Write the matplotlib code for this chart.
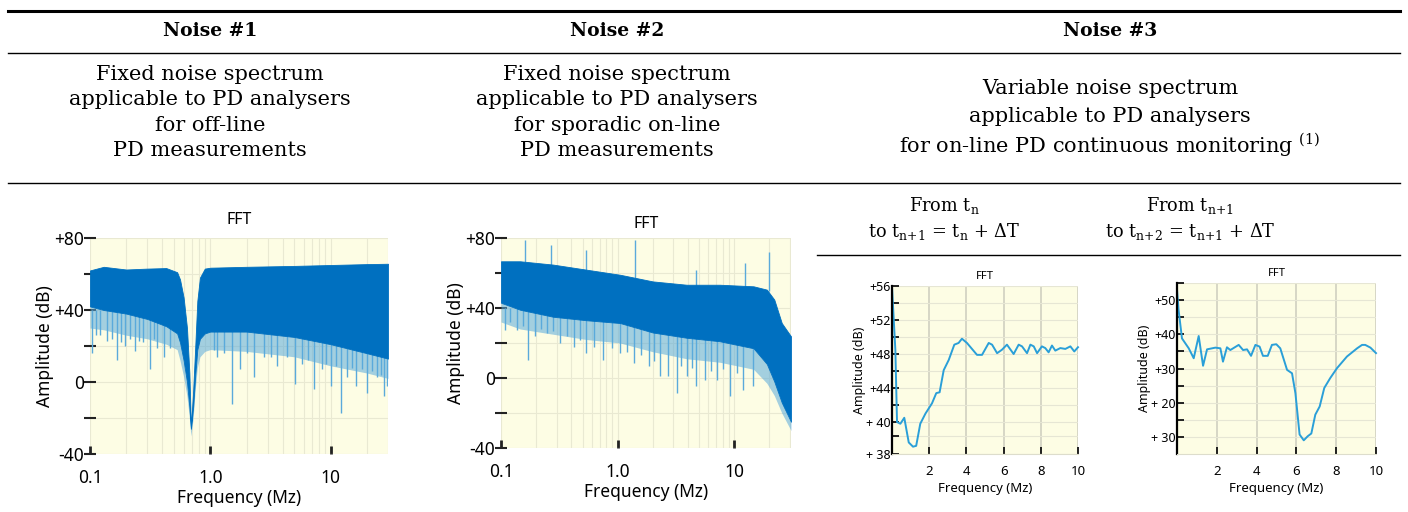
import matplotlib
matplotlib.use("Agg")
import matplotlib.pyplot as plt
from matplotlib.lines import Line2D
from matplotlib.ticker import FixedLocator, NullFormatter, LogLocator

# Table text
headers = ["Noise #1", "Noise #2", "Noise #3"]
desc_1 = ["Fixed noise spectrum", "applicable to PD analysers", "for off-line", "PD measurements"]
desc_2 = ["Fixed noise spectrum", "applicable to PD analysers", "for sporadic on-line", "PD measurements"]
desc_3 = ["Variable noise spectrum", "applicable to PD analysers",
          r"for on-line PD continuous monitoring $^{\mathregular{(1)}}$"]
sub_a = [r"From t$_{\mathregular{n}}$",
         r"to t$_{\mathregular{n{+}1}}$ = t$_{\mathregular{n}}$ + ΔT"]
sub_b = [r"From t$_{\mathregular{n{+}1}}$",
         r"to t$_{\mathregular{n{+}2}}$ = t$_{\mathregular{n{+}1}}$ + ΔT"]

# Noise #1 spectrum envelopes (Mz, dB)
n1_freq = [0.1, 0.13, 0.2, 0.3, 0.43, 0.53, 0.56, 0.6, 0.64, 0.67, 0.69, 0.72, 0.75, 0.78,
           0.82, 0.9, 1.0, 2.0, 5.0, 10.0, 20.0, 30.0]
n1_upper = [62, 64, 62.5, 63, 63.3, 61, 57, 47, 30, 5, -25, -5, 20, 45, 58, 63, 63.5, 64,
            64.5, 65, 65.5, 65.7]
n1_dark_low = [42, 40, 38, 35, 31, 27, 22, 12, 0, -14, -26, -14, 4, 18, 24, 27, 28, 28, 25,
               21, 16, 13]
n1_light_low = [30, 29, 26, 24, 21, 18, 12, 3, -8, -20, -30, -20, -4, 8, 14, 17, 18, 17, 14,
                9, 5, 2]
n1_spike_f = [0.103, 0.112, 0.121, 0.138, 0.152, 0.167, 0.18, 0.196, 0.215, 0.237, 0.255,
              0.278, 0.316, 0.34, 0.36, 0.41, 0.46, 1.08, 1.14, 1.3, 1.52, 1.78, 2.0, 2.3,
              2.78, 3.2, 3.6, 4.3, 5.1, 5.8, 6.5, 7.3, 8.5, 9.2, 10.0, 11.0, 12.1, 13.7,
              15.0, 16.2, 18.4, 20.2, 22.0, 24.4, 26.0, 27.8, 29.5]
n1_spike_low = [16, 26, 26, 23, 24, 12, 22, 20, 24, 17, 23, 22, 7, 24, 19, 14, 19, 18, 14,
                16, -12, 7, 16, 3, 14, 14, 9, 14, -1, 10, 12, -4, 7, 10, -2, 9, -17, 3,
                8, -2, 7, -6, 6, 3, 4, -8, -2]

# Noise #2 spectrum envelopes (Mz, dB)
n2_freq = [0.1, 0.146, 0.28, 0.54, 1.05, 2.0, 3.9, 7.5, 14.6, 19.0, 22.0, 25.5, 30.6]
n2_upper = [66.7, 66.7, 64.8, 61.9, 59, 55.2, 53.3, 53.3, 52.4, 50.5, 44.8, 31.4, 23.8]
n2_dark_low = [43, 39, 35, 33, 31.4, 26, 23, 21, 17, 8, -2, -14, -25]
n2_light_low = [32, 28, 25, 22, 20, 15, 11, 9, 5, -3, -10, -20, -30]
n2_spike_f = [0.108, 0.12, 0.136, 0.155, 0.172, 0.195, 0.22, 0.246, 0.28, 0.32, 0.37, 0.42,
              0.48, 0.54, 0.63, 0.75, 0.9, 1.05, 1.2, 1.37, 1.6, 1.84, 2.05, 2.3, 2.7, 3.2,
              3.5, 3.9, 4.3, 4.7, 5.6, 6.3, 7.1, 8.0, 9.2, 10.5, 11.9, 14.5]
n2_spike_low = [27.6, 32, 27.6, 30, 10.5, 23.8, 28, 25.7, 27, 20, 24, 18, 22, 14.3, 18,
                10.5, 17, 14.3, 15, 8.6, 13, 6.7, 10, 1, 1, -8.6, 7, 1, 6, -4.8, -1, 4,
                -1, 5, -10.5, 3, -6.7, -4.8]
n2_peak_f = [0.16, 0.27, 0.54, 1.4, 4.7, 12.3, 20.0]
n2_peak_high = [79, 76, 73, 79, 62, 66, 72]

# Noise #3, first interval
n3a_freq = [0.0, 0.18, 0.27, 0.45, 0.66, 0.9, 1.13, 1.3, 1.52, 1.8, 2.15, 2.38, 2.56, 2.78,
            3.05, 3.35, 3.58, 3.76, 4.03, 4.57, 4.84, 5.2, 5.38, 5.65, 5.91, 6.18, 6.54,
            6.81, 6.99, 7.26, 7.44, 7.62, 7.8, 8.06, 8.24, 8.42, 8.6, 8.78, 9.05, 9.32,
            9.59, 9.8, 10.0]
n3a_db = [55.9, 48.5, 40.0, 39.8, 40.5, 37.6, 37.1, 37.2, 39.8, 41.0, 42.2, 43.4, 43.5, 46.1,
          47.3, 49.1, 49.3, 49.8, 49.3, 47.9, 47.9, 49.3, 49.1, 48.1, 48.5, 49.1, 48.0,
          49.1, 48.9, 48.1, 49.1, 48.9, 48.1, 48.9, 48.7, 48.2, 49.0, 48.4, 48.7, 48.6,
          48.9, 48.3, 48.8]
n3a_ticks = [36.24, 40, 44, 48, 52, 56]
n3a_ticklabels = ["+ 38", "+ 40", "+44", "+48", "+52", "+56"]

# Noise #3, second interval
n3b_freq = [0.0, 0.08, 0.25, 0.59, 0.84, 1.09, 1.31, 1.51, 1.93, 2.18, 2.31, 2.51, 2.68, 3.1,
            3.32, 3.52, 3.72, 3.94, 4.15, 4.32, 4.56, 4.77, 4.99, 5.19, 5.53, 5.78, 5.95,
            6.16, 6.37, 6.57, 6.75, 6.95, 7.17, 7.4, 7.7, 8.04, 8.54, 9.05, 9.3, 9.46, 9.72, 10.0]
n3b_db = [53.1, 47.1, 38.8, 35.9, 33.0, 39.5, 30.8, 35.6, 36.1, 35.9, 32.0, 36.2, 35.4, 36.9,
          35.4, 35.6, 33.7, 36.9, 36.4, 33.7, 33.7, 36.9, 37.1, 35.9, 29.6, 28.6, 22.8,
          10.7, 9.0, 10.2, 11.0, 16.5, 18.9, 24.3, 27.2, 30.1, 33.5, 35.9, 36.9, 36.9, 36.1, 34.5]
n3b_ticks = [10, 20, 30, 40, 50]
n3b_ticklabels = ["+ 30", "+ 20", "+30", "+40", "+50"]

W, H = 1408, 512
dark_blue = "#0070C0"
light_blue = "#5AAADB"
line_blue = "#2A9FD8"
plot_bg = "#FDFDE4"
serif = ["DejaVu Serif"]
sans = ["Noto Sans", "DejaVu Sans"]


def fx(x):
    return x / W


def fy(y):
    return 1 - y / H


def hline(fig, x0, x1, y, lw):
    fig.add_artist(Line2D([fx(x0), fx(x1)], [fy(y), fy(y)], lw=lw, color="black",
                          transform=fig.transFigure))


def add_ax(fig, x0, x1, y0, y1):
    return fig.add_axes([fx(x0), fy(y1), fx(x1) - fx(x0), fy(y0) - fy(y1)])


def style_log_ax(ax, xmax, title_pad):
    ax.set_facecolor(plot_bg)
    ax.set_xscale("log")
    ax.set_xlim(0.1, xmax)
    ax.set_ylim(-40, 80)
    ax.set_yticks([-40, 0, 40, 80])
    ax.set_yticklabels(["-40", "0", "+40", "+80"], fontsize=12.5, family=sans)
    ax.set_yticks([-20, 20, 60], minor=True)
    ax.set_xticks([0.1, 1.0, 10])
    ax.set_xticklabels(["0.1", "1.0", "10"], fontsize=12.5, family=sans)
    ax.xaxis.set_minor_locator(LogLocator(subs=range(2, 10)))
    ax.xaxis.set_minor_formatter(NullFormatter())
    ax.tick_params(axis="y", which="both", direction="inout", length=9, width=1.5,
                   color="#222222", pad=0)
    ax.tick_params(axis="x", which="major", direction="in", length=6, width=2,
                   color="#222222", pad=11)
    ax.tick_params(axis="x", which="minor", length=0)
    ax.grid(True, which="both", axis="x", color="#E9E9D2", lw=0.8)
    ax.grid(True, which="both", axis="y", color="#E9E9D2", lw=0.8)
    ax.set_axisbelow(True)
    for s in ax.spines.values():
        s.set_visible(False)
    ax.set_title("FFT", fontsize=11.5, family=sans, pad=title_pad)
    ax.set_xlabel("Frequency (Mz)", fontsize=12.5, family=sans, labelpad=1)
    ax.set_ylabel("Amplitude (dB)", fontsize=12.5, family=sans, labelpad=0)


def style_lin_ax(ax, ylim, ticks, ticklabels, minor):
    ax.set_facecolor(plot_bg)
    ax.set_xlim(0, 10)
    ax.set_ylim(*ylim)
    ax.set_xticks([2, 4, 6, 8, 10])
    ax.set_xticklabels(["2", "4", "6", "8", "10"], fontsize=9.5, family=sans)
    ax.set_yticks(ticks)
    ax.set_yticklabels(ticklabels, fontsize=9, family=sans)
    ax.yaxis.set_minor_locator(FixedLocator(minor))
    ax.tick_params(axis="y", which="both", direction="in", length=5, width=1.3,
                   color="#111111", pad=1)
    ax.tick_params(axis="x", direction="in", length=5, width=1.3, color="#111111", pad=8)
    ax.grid(True, axis="x", color="#D0D0C0", lw=1.2)
    ax.grid(True, axis="y", which="both", color="#E6E6D4", lw=0.8)
    ax.set_axisbelow(True)
    for s in ax.spines.values():
        s.set_visible(False)
    ax.spines["left"].set_visible(True)
    ax.spines["left"].set_linewidth(1.6)
    ax.spines["bottom"].set_visible(True)
    ax.spines["bottom"].set_color("#DDDDCC")
    ax.set_title("FFT", fontsize=8, family=sans, pad=5)
    ax.set_xlabel("Frequency (Mz)", fontsize=9.5, family=sans, labelpad=3)
    ax.set_ylabel("Amplitude (dB)", fontsize=9, family=sans, labelpad=0)


fig = plt.figure(figsize=(W / 100, H / 100), dpi=100)

# table rules
hline(fig, 8, 1400, 11, 2.2)
hline(fig, 8, 1400, 53, 1.0)
hline(fig, 8, 1400, 183, 1.0)
hline(fig, 817, 1400, 255, 1.0)

for text, x in zip(headers, [210, 617, 1110]):
    fig.text(fx(x), fy(31), text, ha="center", va="center", fontsize=13.5,
             fontweight="bold", family=serif)

for lines, x in [(desc_1, 210), (desc_2, 617)]:
    for i, text in enumerate(lines):
        fig.text(fx(x), fy(74 + 25.6 * i), text, ha="center", va="center",
                 fontsize=15, family=serif)
for i, text in enumerate(desc_3):
    fig.text(fx(1110), fy(88 + 28.5 * i), text, ha="center", va="center",
             fontsize=15, family=serif)
for lines, x in [(sub_a, 944), (sub_b, 1190)]:
    for i, text in enumerate(lines):
        fig.text(fx(x), fy(205 + 27 * i), text, ha="center", va="center",
                 fontsize=12.8, family=serif)

# Noise #1
ax1 = add_ax(fig, 90, 388, 238, 454)
style_log_ax(ax1, 30, 10)
ax1.fill_between(n1_freq, n1_light_low, n1_dark_low, color=light_blue, alpha=0.55,
                 lw=0, zorder=2)
ax1.vlines(n1_spike_f, n1_spike_low, 40, color=light_blue, lw=1.0, zorder=2)
ax1.fill_between(n1_freq, n1_dark_low, n1_upper, color=dark_blue, lw=0.6,
                 edgecolor=dark_blue, zorder=3)

# Noise #2
ax2 = add_ax(fig, 501, 791, 238, 448)
style_log_ax(ax2, 30.6, 7)
ax2.fill_between(n2_freq, n2_light_low, n2_dark_low, color=light_blue, alpha=0.55,
                 lw=0, zorder=2)
ax2.vlines(n2_spike_f, n2_spike_low, 40, color=light_blue, lw=1.0, zorder=2)
ax2.vlines(n2_peak_f, 50, n2_peak_high, color=light_blue, lw=1.0, zorder=2)
ax2.fill_between(n2_freq, n2_dark_low, n2_upper, color=dark_blue, lw=0.6,
                 edgecolor=dark_blue, zorder=3)

# Noise #3
ax3 = add_ax(fig, 892, 1078, 286, 454)
style_lin_ax(ax3, (36.24, 56), n3a_ticks, n3a_ticklabels, [38.3, 42, 46, 50, 54])
ax3.plot(n3a_freq, n3a_db, color=line_blue, lw=1.4, clip_on=False)

ax4 = add_ax(fig, 1177, 1376, 283, 454)
style_lin_ax(ax4, (5, 55), n3b_ticks, n3b_ticklabels, [15, 25, 35, 45, 55])
ax4.plot(n3b_freq, n3b_db, color=line_blue, lw=1.4, clip_on=False)

fig.savefig("out.png", dpi=100)
